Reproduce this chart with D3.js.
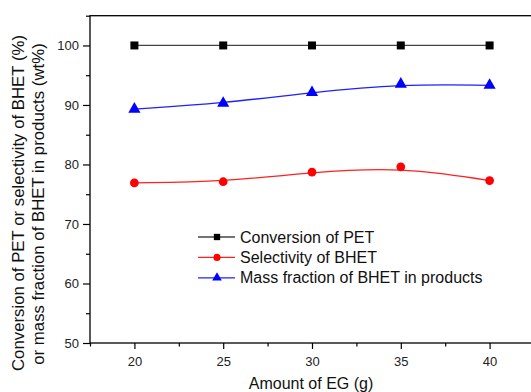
<!DOCTYPE html>
<html>
<head>
<meta charset="utf-8">
<script src="https://cdn.jsdelivr.net/npm/d3@7"></script>
<style>
  body { margin: 0; background: #fff; }
  text { font-family: "Liberation Sans", Arial, sans-serif; }
</style>
</head>
<body>
<div id="chart"></div>
<script>
// data
const egAmount = [20, 25, 30, 35, 40];
const conversionPET = [100, 100, 100, 100, 100];
const selectivityBHET = [76.9, 77.1, 78.7, 79.6, 77.3];
const massFractionBHET = [89.3, 90.3, 92.1, 93.5, 93.3];
const xTicks = [20, 25, 30, 35, 40];
const yTicks = [50, 60, 70, 80, 90, 100];

const width = 531, height = 392;
const padding = {top: 15.7, right: -3, bottom: 49, left: 90};

const svg = d3.select('#chart')
    .append('svg')
    .attr('width', width)
    .attr('height', height);

const x = d3.scaleLinear()
    .domain([17.5, 42.5])
    .range([padding.left, width - padding.right]);

const y = d3.scaleLinear()
    .domain([50, 105])
    .range([height - padding.bottom, padding.top]);

// frame
svg.append('rect')
    .attr('x', x(17.5))
    .attr('y', y(105))
    .attr('width', x(42.5) - x(17.5))
    .attr('height', y(50) - y(105))
    .attr('fill', 'none')
    .attr('stroke', '#000')
    .attr('stroke-width', 1.3);

// x axis, major + minor
svg.append('g')
    .attr('transform', `translate(0,${y(50)})`)
    .call(d3.axisBottom(x).tickValues(xTicks).tickSize(6).tickPadding(8));
svg.append('g')
    .attr('transform', `translate(0,${y(50)})`)
    .call(d3.axisBottom(x).tickValues([17.5, 22.5, 27.5, 32.5, 37.5, 42.5]).tickSize(3.5).tickFormat(''));

// y axis, major + minor
svg.append('g')
    .attr('transform', `translate(${x(17.5)},0)`)
    .call(d3.axisLeft(y).tickValues(yTicks).tickSize(7).tickPadding(4));
svg.append('g')
    .attr('transform', `translate(${x(17.5)},0)`)
    .call(d3.axisLeft(y).tickValues([55, 65, 75, 85, 95, 105]).tickSize(4).tickFormat(''));

svg.selectAll('.domain').remove();
svg.selectAll('.tick line').attr('stroke', '#000').attr('stroke-width', 1.2);
svg.selectAll('.tick text')
    .attr('font-size', 13)
    .attr('fill', '#222')
    .style('font-family', '"Liberation Sans", Arial, sans-serif');

// axis titles
svg.append('text')
    .attr('x', 311)
    .attr('y', 389)
    .attr('text-anchor', 'middle')
    .attr('font-size', 16)
    .attr('fill', '#111')
    .text('Amount of EG (g)');

const yTitle = svg.append('g')
    .attr('transform', 'translate(0,203) rotate(-90)');
yTitle.append('text')
    .attr('x', 0).attr('y', 24)
    .attr('text-anchor', 'middle')
    .attr('font-size', 16.8)
    .attr('fill', '#111')
    .text('Conversion of PET or selectivity of BHET (%)');
yTitle.append('text')
    .attr('x', -1).attr('y', 43.5)
    .attr('text-anchor', 'middle')
    .attr('font-size', 16.8)
    .attr('fill', '#111')
    .text('or mass fraction of BHET in products (wt%)');

const series = [
    {name: 'Conversion of PET', values: conversionPET, color: '#000', lineColor: '#444', shape: 'square'},
    {name: 'Selectivity of BHET', values: selectivityBHET, color: '#ff0000', lineColor: '#ff2020', shape: 'circle'},
    {name: 'Mass fraction of BHET in products', values: massFractionBHET, color: '#0000ff', lineColor: '#2020ff', shape: 'triangle'}
];

const symbolType = {square: d3.symbolSquare, circle: d3.symbolCircle, triangle: d3.symbolTriangle};

const line = d3.line()
    .curve(d3.curveBasis)
    .x(d => x(d[0]))
    .y(d => y(d[1]));
const straight = d3.line()
    .x(d => x(d[0]))
    .y(d => y(d[1]));

series.forEach(function (s) {
    const pts = egAmount.map((d, i) => [d, s.values[i]]);
    svg.append('path')
        .datum(pts)
        .attr('fill', 'none')
        .attr('stroke', s.lineColor)
        .attr('stroke-width', 1.3)
        .attr('d', s.shape === 'square' ? straight : line);
    svg.selectAll(null)
        .data(pts)
        .enter()
        .append('path')
        .attr('transform', d => `translate(${x(d[0])},${y(d[1])})`)
        .attr('d', d3.symbol().type(symbolType[s.shape]).size(s.shape === 'circle' ? 60 : 64))
        .attr('fill', s.color);
});

// legend
const legend = svg.append('g');
series.forEach(function (s, i) {
    const ly = 237 + i * 20.4;
    legend.append('line')
        .attr('x1', 198).attr('x2', 235)
        .attr('y1', ly).attr('y2', ly)
        .attr('stroke', s.lineColor)
        .attr('stroke-width', 1.3);
    legend.append('path')
        .attr('transform', `translate(217,${ly})`)
        .attr('d', d3.symbol().type(symbolType[s.shape]).size(40)())
        .attr('fill', s.color);
    legend.append('text')
        .attr('x', 240)
        .attr('y', ly + 5.5)
        .attr('font-size', 16)
        .attr('fill', '#111')
        .text(s.name);
});
</script>
</body>
</html>
